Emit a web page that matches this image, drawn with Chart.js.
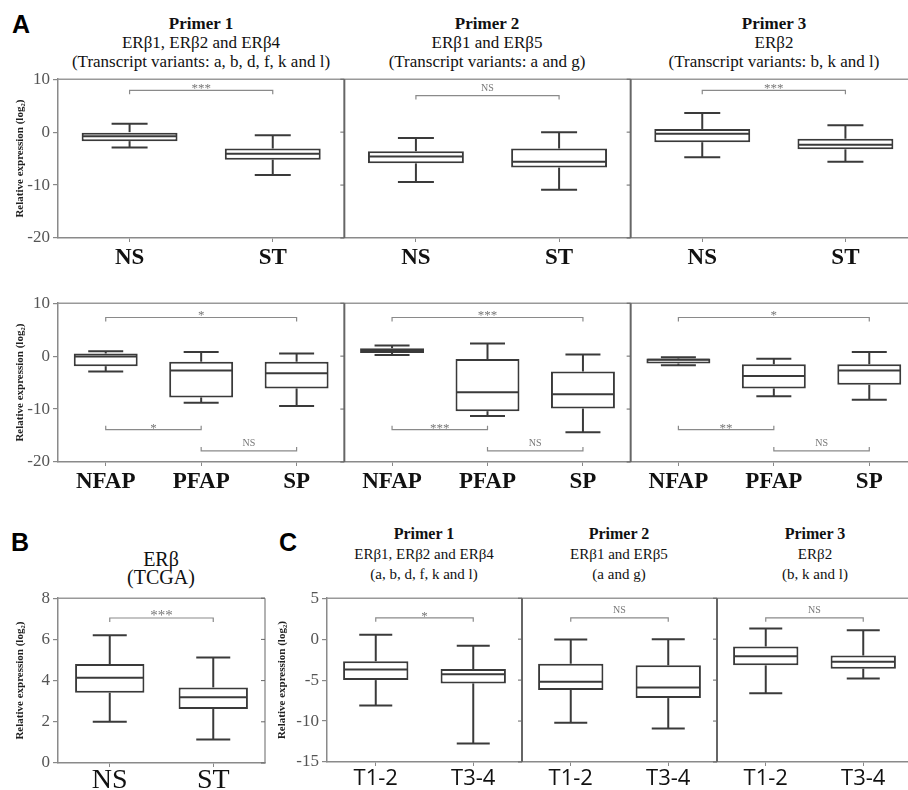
<!DOCTYPE html>
<html>
<head>
<meta charset="utf-8">
<script src="https://cdn.jsdelivr.net/npm/chart.js"></script>
<style>
  html, body { margin: 0; padding: 0; background: #fff; overflow: hidden; }
  body { width: 908px; height: 790px; position: relative; }
  canvas { position: absolute; }
  .t { position: absolute; transform: translateX(-50%); text-align: center; white-space: nowrap;
       font-family: "Liberation Serif", "DejaVu Serif", serif; color: #111; }
  .lt { position: absolute; font-family: "Liberation Sans", Arial, sans-serif; font-weight: bold;
        font-size: 25px; line-height: 25px; color: #000; }
</style>
</head>
<body>
<div class="lt" style="left:12px; top:12px">A</div>
<div class="lt" style="left:11px; top:530px">B</div>
<div class="lt" style="left:279px; top:530px">C</div>

<div class="t" style="left:201px; top:14px; font-size:17px; line-height:19px"><b>Primer 1</b><br>ERβ1, ERβ2 and ERβ4<br>(Transcript variants: a, b, d, f, k and l)</div>
<div class="t" style="left:487px; top:14px; font-size:17px; line-height:19px"><b>Primer 2</b><br>ERβ1 and ERβ5<br>(Transcript variants: a and g)</div>
<div class="t" style="left:774px; top:14px; font-size:17px; line-height:19px"><b>Primer 3</b><br>ERβ2<br>(Transcript variants: b, k and l)</div>

<div class="t" style="left:161px; top:550px; font-size:20px; line-height:18px">ERβ<br>(TCGA)</div>

<div class="t" style="left:424px; top:524px; font-size:15px; line-height:20px"><b style="font-size:16px">Primer 1</b><br>ERβ1, ERβ2 and ERβ4<br>(a, b, d, f, k and l)</div>
<div class="t" style="left:619px; top:524px; font-size:15px; line-height:20px"><b style="font-size:16px">Primer 2</b><br>ERβ1 and ERβ5<br>(a and g)</div>
<div class="t" style="left:815px; top:524px; font-size:15px; line-height:20px"><b style="font-size:16px">Primer 3</b><br>ERβ2<br>(b, k and l)</div>

<canvas id="aTop" width="917" height="208" style="left:0px; top:66px"></canvas>
<canvas id="aBottom" width="917" height="208" style="left:0px; top:290px"></canvas>
<canvas id="bChart" width="268" height="218" style="left:0px; top:585px"></canvas>
<canvas id="cChart" width="642" height="217" style="left:270px; top:585px"></canvas>

<script>
const SERIF = '"Liberation Serif", "DejaVu Serif", serif';

// Panel A, upper row: NS vs ST for primers 1-3
const aTopLabels = ['NS', 'ST', 'NS', 'ST', 'NS', 'ST'];
const aTopMin = [-2.9, -8.1, -9.4, -10.9, -4.75, -5.6];
const aTopQ1 = [-1.7, -5.2, -5.9, -6.7, -1.9, -3.25];
const aTopMed = [-0.8, -4.1, -4.6, -5.6, -0.3, -2.4];
const aTopQ3 = [0, -3.1, -3.6, -3.1, 0.6, -1.25];
const aTopMax = [1.6, -0.6, -1.1, 0, 3.6, 1.3];
const aTopSigFrom = [0, 2, 4];
const aTopSigTo = [1, 3, 5];
const aTopSigAt = [7.9, 6.9, 7.9];
const aTopSigText = ['***', 'NS', '***'];

// Panel A, lower row: NFAP / PFAP / SP for primers 1-3
const aBotLabels = ['NFAP', 'PFAP', 'SP', 'NFAP', 'PFAP', 'SP', 'NFAP', 'PFAP', 'SP'];
const aBotMin = [-2.9, -8.8, -9.4, 0.2, -11.3, -14.4, -1.7, -7.6, -8.25];
const aBotQ1 = [-1.9, -7.8, -6.1, 0.6, -10.4, -9.9, -1.4, -6.1, -5.4];
const aBotMed = [-0.05, -2.7, -3.25, 1.1, -6.8, -7.2, -0.7, -3.75, -2.7];
const aBotQ3 = [0.5, -1.05, -1.05, 1.5, -0.55, -2.9, -0.45, -1.55, -1.55];
const aBotMax = [0.9, 0.8, 0.5, 2.0, 2.4, 0.3, -0.2, -0.5, 0.8];
const aBotSigFrom = [0, 0, 1, 3, 3, 4, 6, 6, 7];
const aBotSigTo = [2, 1, 2, 5, 4, 5, 8, 7, 8];
const aBotSigAt = [7.3, -13.9, -17.9, 7.3, -13.9, -17.9, 7.3, -13.9, -17.9];
const aBotSigText = ['*', '*', 'NS', '***', '***', 'NS', '*', '**', 'NS'];

// Panel B: TCGA
const bLabels = ['NS', 'ST'];
const bMin = [2.0, 1.14];
const bQ1 = [3.41, 2.62];
const bMed = [4.14, 3.19];
const bQ3 = [4.8, 3.67];
const bMax = [6.2, 5.12];
const bSigFrom = [0];
const bSigTo = [1];
const bSigAt = [7.04];
const bSigText = ['***'];

// Panel C: T1-2 vs T3-4 for primers 1-3
const cLabels = ['T1-2', 'T3-4', 'T1-2', 'T3-4', 'T1-2', 'T3-4'];
const cMin = [-8.1, -12.75, -10.2, -10.9, -6.6, -4.8];
const cQ1 = [-5.0, -5.4, -6.2, -7.2, -3.2, -3.6];
const cMed = [-3.7, -4.3, -5.2, -5.9, -2.1, -2.75];
const cQ3 = [-2.7, -3.65, -3.0, -3.2, -0.9, -2.0];
const cMax = [0.55, -0.8, -0.05, 0, 1.3, 1.1];
const cSigFrom = [0, 2, 4];
const cSigTo = [1, 3, 5];
const cSigAt = [2.6, 2.6, 2.6];
const cSigText = ['*', 'NS', 'NS'];

function line(ctx, x1, y1, x2, y2) {
    ctx.beginPath();
    ctx.moveTo(x1, y1);
    ctx.lineTo(x2, y2);
    ctx.stroke();
}

// whiskers, medians, frame and significance brackets
const boxPlot = {
    id: 'boxPlot',
    beforeDatasetsDraw(chart, args, o) {
        const { ctx, chartArea: a, scales: { x, y } } = chart;
        const n = chart.data.labels.length;
        ctx.save();
        ctx.strokeStyle = '#999';
        ctx.lineWidth = 1.5;
        line(ctx, a.left, a.top, a.right, a.top);
        line(ctx, a.right, a.top, a.right, a.bottom);
        ctx.strokeStyle = '#666';
        ctx.lineWidth = 2;
        for (let k = o.group; k <= n; k += o.group) {
            const xp = k < n ? (x.getPixelForValue(k - 1) + x.getPixelForValue(k)) / 2 : a.right;
            if (k < n) line(ctx, xp, a.top, xp, a.bottom);
            ctx.lineWidth = 1;
            y.ticks.forEach(t => {
                const yp = y.getPixelForValue(t.value);
                line(ctx, xp - 4, yp, xp, yp);
            });
            ctx.lineWidth = 2;
        }
        ctx.restore();
    },
    afterDatasetsDraw(chart, args, o) {
        const { ctx, scales: { x, y } } = chart;
        const meta = chart.getDatasetMeta(0);
        ctx.save();
        ctx.strokeStyle = '#3a3a3a';
        ctx.lineWidth = 2;
        meta.data.forEach((bar, i) => {
            const cx = bar.x;
            const half = bar.width / 2;
            const yMin = y.getPixelForValue(o.min[i]);
            const yMax = y.getPixelForValue(o.max[i]);
            const yQ1 = y.getPixelForValue(o.q1[i]);
            const yQ3 = y.getPixelForValue(o.q3[i]);
            const yMed = y.getPixelForValue(o.med[i]);
            line(ctx, cx, yQ3, cx, yMax);
            line(ctx, cx, yQ1, cx, yMin);
            line(ctx, cx - o.cap, yMax, cx + o.cap, yMax);
            line(ctx, cx - o.cap, yMin, cx + o.cap, yMin);
            line(ctx, cx - half + 1, yMed, cx + half - 1, yMed);
        });

        ctx.strokeStyle = '#8a8a8a';
        ctx.fillStyle = '#777';
        ctx.lineWidth = 1.2;
        ctx.textAlign = 'center';
        ctx.textBaseline = 'alphabetic';
        o.sigFrom.forEach((f, j) => {
            const t = o.sigTo[j];
            const x1 = x.getPixelForValue(f);
            const x2 = x.getPixelForValue(t);
            const yp = y.getPixelForValue(o.sigAt[j]);
            const above = o.sigAt[j] > Math.max(...o.max.slice(f, t + 1));
            const d = above ? 4 : -4;
            ctx.beginPath();
            ctx.moveTo(x1, yp + d);
            ctx.lineTo(x1, yp);
            ctx.lineTo(x2, yp);
            ctx.lineTo(x2, yp + d);
            ctx.stroke();
            const txt = o.sigText[j];
            if (txt === 'NS') {
                ctx.font = '10px ' + SERIF;
                ctx.fillText(txt, (x1 + x2) / 2, yp - 5);
            } else {
                ctx.font = o.starSize + 'px ' + SERIF;
                ctx.fillText(txt, (x1 + x2) / 2, yp + 2);
            }
        });
        ctx.restore();
    }
};

function boxChart(id, c) {
    return new Chart(document.getElementById(id), {
        type: 'bar',
        data: {
            labels: c.labels,
            datasets: [{
                data: c.q1.map((v, i) => [v, c.q3[i]]),
                backgroundColor: '#fff',
                borderColor: '#3a3a3a',
                borderWidth: 2,
                borderSkipped: false,
                barPercentage: 0.67,
                categoryPercentage: 1
            }]
        },
        options: {
            responsive: false,
            animation: false,
            layout: { padding: { top: 12, right: c.padRight, left: 0, bottom: 0 } },
            plugins: {
                legend: { display: false },
                tooltip: { enabled: false },
                boxPlot: {
                    min: c.min, q1: c.q1, med: c.med, q3: c.q3, max: c.max,
                    group: c.group, cap: c.cap, starSize: c.starSize,
                    sigFrom: c.sigFrom, sigTo: c.sigTo, sigAt: c.sigAt, sigText: c.sigText
                }
            },
            scales: {
                x: {
                    ticks: { color: '#111', font: c.xFont, padding: c.xPad, maxRotation: 0, autoSkip: false },
                    grid: { drawOnChartArea: false, offset: false, tickLength: 4, color: '#888' },
                    border: { display: true, color: '#8a8a8a', width: 1.5 },
                    afterFit(s) { s.height = c.xH; }
                },
                y: {
                    min: c.yMin,
                    max: c.yMax,
                    ticks: { stepSize: c.yStep, color: '#555', font: { family: SERIF, size: 17 }, padding: 3 },
                    grid: { drawOnChartArea: false, tickLength: 5, color: '#888', lineWidth: 1.2 },
                    border: { display: true, color: '#8a8a8a', width: 1.5 },
                    title: {
                        display: true,
                        text: 'Relative expression (log\u2082)',
                        color: '#222',
                        font: { family: SERIF, size: 11, weight: 'bold' },
                        padding: { top: c.titlePad, bottom: 0 }
                    },
                    afterFit(s) { s.width = c.yW; }
                }
            }
        },
        plugins: [boxPlot]
    });
}

const rowAFont = { family: SERIF, size: 23, weight: 'bold' };

boxChart('aTop', {
    labels: aTopLabels, min: aTopMin, q1: aTopQ1, med: aTopMed, q3: aTopQ3, max: aTopMax,
    sigFrom: aTopSigFrom, sigTo: aTopSigTo, sigAt: aTopSigAt, sigText: aTopSigText,
    group: 2, cap: 18, starSize: 13, yMin: -20, yMax: 10, yStep: 10,
    xFont: rowAFont, xPad: 2, xH: 36, yW: 58, titlePad: 14, padRight: 0
});

boxChart('aBottom', {
    labels: aBotLabels, min: aBotMin, q1: aBotQ1, med: aBotMed, q3: aBotQ3, max: aBotMax,
    sigFrom: aBotSigFrom, sigTo: aBotSigTo, sigAt: aBotSigAt, sigText: aBotSigText,
    group: 3, cap: 17.5, starSize: 13, yMin: -20, yMax: 10, yStep: 10,
    xFont: rowAFont, xPad: 2, xH: 36, yW: 58, titlePad: 14, padRight: 0
});

boxChart('bChart', {
    labels: bLabels, min: bMin, q1: bQ1, med: bMed, q3: bQ3, max: bMax,
    sigFrom: bSigFrom, sigTo: bSigTo, sigAt: bSigAt, sigText: bSigText,
    group: 2, cap: 17, starSize: 15, yMin: 0, yMax: 8, yStep: 2,
    xFont: { family: SERIF, size: 28, lineHeight: 1 }, xPad: 0, xH: 40, yW: 58, titlePad: 14, padRight: 3
});

boxChart('cChart', {
    labels: cLabels, min: cMin, q1: cQ1, med: cMed, q3: cQ3, max: cMax,
    sigFrom: cSigFrom, sigTo: cSigTo, sigAt: cSigAt, sigText: cSigText,
    group: 2, cap: 16.5, starSize: 13, yMin: -15, yMax: 5, yStep: 5,
    xFont: { family: '"Open Sans", "Liberation Sans", sans-serif', size: 22, lineHeight: 1 },
    xPad: 2, xH: 40, yW: 57, titlePad: 6, padRight: 0
});
</script>
</body>
</html>
